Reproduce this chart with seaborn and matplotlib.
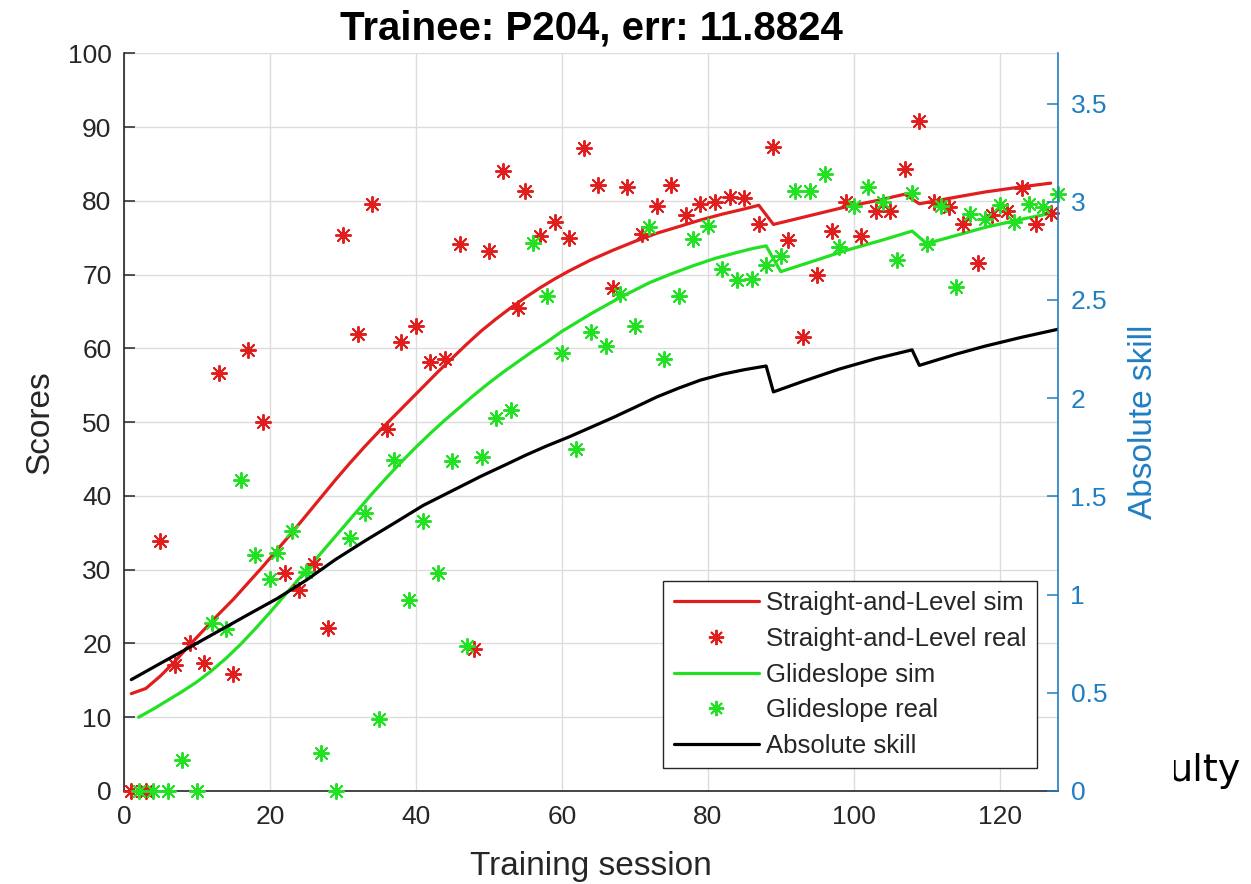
import matplotlib
matplotlib.use("Agg")
import matplotlib.pyplot as plt
import seaborn as sns
from matplotlib.lines import Line2D
from matplotlib.transforms import Bbox, TransformedBbox

# ---------------- data ----------------
title = "Trainee: P204, err: 11.8824"
x_label = "Training session"
y_label = "Scores"
y2_label = "Absolute skill"
legend_labels = ["Straight-and-Level sim", "Straight-and-Level real",
                 "Glideslope sim", "Glideslope real", "Absolute skill"]
fragment_text = "ulty"
x_ticks = [0, 20, 40, 60, 80, 100, 120]
y_ticks = [0, 10, 20, 30, 40, 50, 60, 70, 80, 90, 100]
y2_ticks = [0, 0.5, 1, 1.5, 2, 2.5, 3, 3.5]
y2_tick_labels = ["0", "0.5", "1", "1.5", "2", "2.5", "3", "3.5"]

# Straight-and-Level simulated curve
sl_sim_x = [1, 3, 5, 7, 9, 11, 13, 15, 17, 19, 21, 23, 25, 27, 29, 31, 33, 35, 37,
            39, 41, 43, 45, 47, 49, 51, 53, 55, 57, 59, 61, 64, 67, 70, 73, 76, 79,
            82, 85, 87, 89, 94, 99, 103, 107, 109, 114, 118, 123, 127]
sl_sim_y = [13.2, 13.9, 15.6, 17.6, 19.8, 21.9, 24.0, 26.0, 28.2, 30.4, 32.7, 35.0,
            37.4, 39.8, 42.2, 44.5, 46.7, 48.8, 50.8, 52.8, 54.8, 56.8, 58.7, 60.6,
            62.4, 64.0, 65.5, 66.9, 68.2, 69.4, 70.5, 72.0, 73.3, 74.5, 75.6, 76.5,
            77.4, 78.2, 78.9, 79.4, 76.8, 78.0, 79.2, 80.0, 80.9, 79.6, 80.5, 81.2,
            81.9, 82.4]

# Straight-and-Level real scores
sl_real_x = [1, 3, 5, 7, 9, 11, 13, 15, 17, 19, 22, 24, 26, 28, 30, 32, 34, 36, 38,
             40, 42, 44, 46, 48, 50, 52, 54, 55, 57, 59, 61, 63, 65, 67, 69, 71, 73,
             75, 77, 79, 81, 83, 85, 87, 89, 91, 93, 95, 97, 99, 101, 103, 105, 107,
             109, 111, 113, 115, 117, 119, 121, 123, 125, 127]
sl_real_y = [0, 0, 33.9, 17.1, 20.0, 17.3, 56.6, 15.9, 59.8, 50.0, 29.6, 27.2, 30.8,
             22.1, 75.4, 61.9, 79.6, 49.1, 60.8, 63.0, 58.2, 58.5, 74.2, 19.2, 73.2,
             84.1, 65.5, 81.3, 75.3, 77.1, 74.9, 87.1, 82.2, 68.2, 81.9, 75.5, 79.3,
             82.2, 78.1, 79.6, 79.8, 80.5, 80.4, 76.8, 87.3, 74.7, 61.6, 70.0, 75.9,
             79.9, 75.3, 78.6, 78.6, 84.3, 90.8, 79.8, 79.2, 76.9, 71.6, 78.1, 78.6,
             81.7, 76.8, 78.3]

# Glideslope simulated curve
gs_sim_x = [2, 4, 6, 8, 10, 12, 14, 16, 18, 20, 22, 24, 26, 28, 30, 32, 34, 36, 38,
            40, 42, 44, 46, 48, 50, 52, 54, 56, 58, 60, 62, 64, 66, 68, 70, 72, 75,
            78, 81, 84, 86, 88, 90, 95, 99, 104, 108, 110, 114, 118, 123, 127]
gs_sim_y = [10.0, 11.1, 12.3, 13.5, 14.8, 16.3, 18.0, 19.9, 22.0, 24.2, 26.5, 28.8,
            31.1, 33.4, 35.7, 38.0, 40.3, 42.5, 44.6, 46.6, 48.5, 50.3, 52.0, 53.7,
            55.3, 56.8, 58.2, 59.6, 60.9, 62.3, 63.5, 64.7, 65.8, 66.9, 67.9, 68.9,
            70.1, 71.2, 72.2, 73.0, 73.5, 73.9, 70.4, 72.0, 73.3, 74.7, 75.9, 74.2,
            75.3, 76.4, 77.5, 78.3]

# Glideslope real scores
gs_real_x = [2, 4, 6, 8, 10, 12, 14, 16, 18, 20, 21, 23, 25, 27, 29, 31, 33, 35, 37,
             39, 41, 43, 45, 47, 49, 51, 53, 56, 58, 60, 62, 64, 66, 68, 70, 72, 74,
             76, 78, 80, 82, 84, 86, 88, 90, 92, 94, 96, 98, 100, 102, 104, 106, 108,
             110, 112, 114, 116, 118, 120, 122, 124, 126, 128]
gs_real_y = [0, 0, 0, 4.2, 0, 22.8, 21.9, 42.2, 32.0, 28.7, 32.3, 35.2, 29.7, 5.2, 0,
             34.3, 37.7, 9.7, 44.9, 25.9, 36.6, 29.6, 44.7, 19.6, 45.3, 50.5, 51.6,
             74.3, 67.1, 59.4, 46.4, 62.2, 60.3, 67.4, 63.1, 76.5, 58.6, 67.1, 74.8,
             76.6, 70.8, 69.3, 69.4, 71.3, 72.5, 81.3, 81.4, 83.7, 73.8, 79.3, 81.9,
             79.9, 72.0, 81.0, 74.2, 79.3, 68.3, 78.2, 77.5, 79.4, 77.1, 79.6, 79.2,
             80.9]

# Absolute skill (right axis)
abs_x = [1, 5, 9, 13, 17, 21, 25, 29, 33, 37, 41, 45, 49, 52, 55, 58, 61, 64, 67, 70,
         73, 76, 79, 82, 85, 88, 89, 93, 98, 103, 108, 109, 114, 118, 123, 128]
abs_y = [0.567, 0.650, 0.732, 0.815, 0.898, 0.980, 1.074, 1.179, 1.273, 1.363, 1.454,
         1.529, 1.604, 1.656, 1.709, 1.758, 1.803, 1.852, 1.901, 1.953, 2.006, 2.051,
         2.092, 2.122, 2.145, 2.164, 2.032, 2.085, 2.148, 2.201, 2.246, 2.167, 2.224,
         2.265, 2.310, 2.351]

# ---------------- style ----------------
RED = "#E01E1E"
GREEN = "#22E022"
BLUE = "#1F7EC2"
DARK = "#262626"
STAR = (8, 2, 0)

sns.set_theme(style="white")
plt.rcParams["font.family"] = ["Liberation Sans", "DejaVu Sans"]

W, H = 1251, 884
fig = plt.figure(figsize=(W / 100, H / 100), dpi=100)
ax = fig.add_axes([124 / W, 1 - 791 / H, 934 / W, 737.7 / H])
ax2 = ax.twinx()

ax.set_axisbelow(True)
ax.grid(True, color="#dcdcdc", lw=1.0)

sns.lineplot(x=sl_sim_x, y=sl_sim_y, ax=ax, color=RED, lw=2.3, sort=False,
             estimator=None, legend=False, zorder=2)
sns.scatterplot(x=sl_real_x, y=sl_real_y, ax=ax, marker=STAR, s=120, color=RED,
                linewidth=1.4, legend=False, clip_on=False, zorder=3)
sns.lineplot(x=gs_sim_x, y=gs_sim_y, ax=ax, color=GREEN, lw=2.3, sort=False,
             estimator=None, legend=False, zorder=2)
sns.scatterplot(x=gs_real_x, y=gs_real_y, ax=ax, marker=STAR, s=120, color=GREEN,
                linewidth=1.4, legend=False, clip_on=False, zorder=3)
sns.lineplot(x=abs_x, y=abs_y, ax=ax2, color="black", lw=2.3, sort=False,
             estimator=None, legend=False, zorder=2)

ax.set_xlim(0, 128)
ax.set_ylim(0, 100)
ax2.set_ylim(0, 3.756)
ax.set_xticks(x_ticks)
ax.set_xticklabels([str(t) for t in x_ticks])
ax.set_yticks(y_ticks)
ax.set_yticklabels([str(t) for t in y_ticks])
ax2.set_yticks(y2_ticks)
ax2.set_yticklabels(y2_tick_labels)

ax.tick_params(axis="both", direction="in", length=8, width=1.1, colors=DARK,
               labelsize=19, pad=9, top=False, right=False)
ax.tick_params(axis="x", pad=10)
ax2.tick_params(axis="y", direction="in", length=8, width=1.1, colors=BLUE,
                labelsize=19, pad=9)

for sp in ["top", "right"]:
    ax.spines[sp].set_visible(False)
for sp in ["top", "left", "bottom"]:
    ax2.spines[sp].set_visible(False)
ax.spines["left"].set_color(DARK)
ax.spines["bottom"].set_color(DARK)
ax.spines["left"].set_linewidth(1.2)
ax.spines["bottom"].set_linewidth(1.2)
ax2.spines["right"].set_color(BLUE)
ax2.spines["right"].set_linewidth(1.2)

ax.set_xlabel(x_label, fontsize=24, color=DARK, labelpad=16)
ax.set_ylabel(y_label, fontsize=24, color=DARK, labelpad=9)
ax2.set_ylabel(y2_label, fontsize=24, color=BLUE, labelpad=15)
ax.set_title(title, fontsize=29, fontweight="bold", color="black", pad=10)

handles = [
    Line2D([], [], color=RED, lw=2.3),
    Line2D([], [], color=RED, marker=STAR, ls="", ms=11, mew=1.4),
    Line2D([], [], color=GREEN, lw=2.3),
    Line2D([], [], color=GREEN, marker=STAR, ls="", ms=11, mew=1.4),
    Line2D([], [], color="black", lw=2.3),
]
leg = ax2.legend(handles, legend_labels, loc="lower right",
                 bbox_to_anchor=((1037 - 124) / 934, (791 - 768) / 737.7),
                 borderaxespad=0, fontsize=18.5, frameon=True, fancybox=False,
                 edgecolor=DARK, framealpha=1, handlelength=3.3,
                 handletextpad=0.3, labelspacing=0.45, borderpad=0.4)
leg.get_frame().set_linewidth(1.0)
leg.set_zorder(10)

# cropped word fragment on the right edge of the picture
frag = fig.text(1241 / W, 1 - 781 / H, fragment_text, ha="right", va="baseline",
                fontsize=27.5, color="black", family=["DejaVu Sans"])
frag.set_clip_box(TransformedBbox(Bbox([[1174 / W, 0.0], [1.0, 0.3]]),
                                  fig.transFigure))
frag.set_clip_on(True)

fig.savefig("out.png", dpi=100)
